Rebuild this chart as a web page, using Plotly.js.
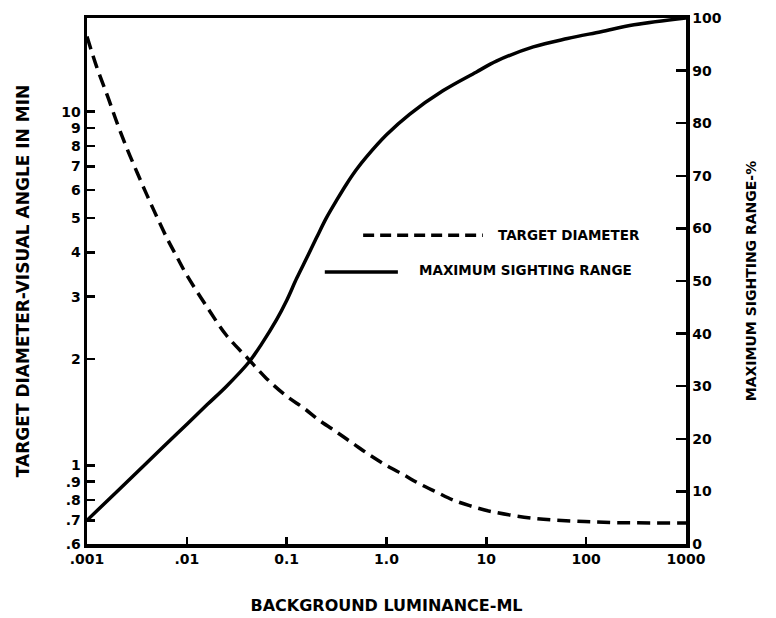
<!DOCTYPE html>
<html>
<head>
<meta charset="utf-8">
<script src="https://cdn.plot.ly/plotly-3.0.1.min.js"></script>
<style>
  html, body { margin: 0; padding: 0; background: #ffffff; }
  #chart { width: 776px; height: 618px; }
</style>
</head>
<body>
<div id="chart"></div>
<script>
// Background luminance (mL) and target diameter (visual angle, min) - dashed curve
const diamLum = [0.001, 0.00126, 0.0016, 0.002, 0.0025, 0.0032, 0.004, 0.005, 0.0063, 0.0079, 0.01, 0.016, 0.025, 0.04, 0.063, 0.1, 0.15, 0.21, 0.32, 0.46, 0.68, 1.0, 1.5, 2.1, 3.2, 4.6, 6.8, 11.5, 29, 72, 180, 1000];
const diamMin = [16.3, 13.3, 11.1, 9.3, 7.9, 6.7, 5.8, 5.05, 4.4, 3.9, 3.45, 2.8, 2.33, 2.02, 1.76, 1.57, 1.45, 1.345, 1.24, 1.155, 1.07, 1.0, 0.94, 0.89, 0.84, 0.80, 0.77, 0.74, 0.71, 0.697, 0.69, 0.688];

// Background luminance (mL) and maximum sighting range (%) - solid curve
const rangeLum = [0.001, 0.002, 0.004, 0.008, 0.016, 0.025, 0.042, 0.056, 0.079, 0.1, 0.126, 0.16, 0.2, 0.25, 0.32, 0.4, 0.5, 0.63, 1.0, 1.7, 3.7, 7.9, 12.6, 29.5, 65, 141, 302, 1000];
const rangePct = [4.5, 10, 15.5, 21, 26.5, 30, 34.6, 38.0, 42.6, 46.3, 50.5, 54.5, 58.3, 62.0, 65.5, 68.5, 71.2, 73.6, 77.8, 81.7, 86.2, 89.7, 91.8, 94.5, 96.1, 97.4, 98.7, 100];

// Tick labels
const xTickVals = [0.001, 0.01, 0.1, 1, 10, 100, 1000];
const xTickText = ['.001', '.01', '0.1', '1.0', '10', '100', '1000'];
const yTickVals = [0.6, 0.7, 0.8, 0.9, 1, 2, 3, 4, 5, 6, 7, 8, 9, 10];
const yTickText = ['.6', '.7', '.8', '.9', '1', '2', '3', '4', '5', '6', '7', '8', '9', '10'];
const y2TickVals = [0, 10, 20, 30, 40, 50, 60, 70, 80, 90, 100];

// Labels
const seriesNames = ['TARGET DIAMETER', 'MAXIMUM SIGHTING RANGE'];
const xTitle = 'BACKGROUND LUMINANCE-ML';
const yTitle = 'TARGET DIAMETER-VISUAL ANGLE IN MIN';
const y2Title = 'MAXIMUM SIGHTING RANGE-%';

const FONT = 'DejaVu Sans, Liberation Sans, sans-serif';

const traces = [
  {
    x: diamLum, y: diamMin, name: seriesNames[0], yaxis: 'y',
    type: 'scatter', mode: 'lines',
    line: { color: '#000', width: 3.5, dash: '13px,7px', shape: 'spline', smoothing: 1 },
    hoverinfo: 'skip'
  },
  {
    x: rangeLum, y: rangePct, name: seriesNames[1], yaxis: 'y2',
    type: 'scatter', mode: 'lines',
    line: { color: '#000', width: 3.5, shape: 'spline', smoothing: 1 },
    hoverinfo: 'skip'
  }
];

const layout = {
  width: 776, height: 618,
  margin: { l: 87, r: 90, t: 18, b: 74 },
  paper_bgcolor: '#fff', plot_bgcolor: '#fff',
  showlegend: false,
  font: { family: FONT, color: '#000', size: 14, weight: 'bold' },
  xaxis: {
    type: 'log', range: [-3, 3],
    tickvals: xTickVals, ticktext: xTickText,
    ticks: 'inside', ticklen: 7, tickwidth: 2.5, tickcolor: '#000',
    showline: true, linewidth: 3.5, linecolor: '#000', mirror: true,
    showgrid: false, zeroline: false,
    tickfont: { family: FONT, size: 14, weight: 'bold' },
    title: { text: xTitle, font: { family: FONT, size: 16, weight: 'bold' }, standoff: 34 }
  },
  yaxis: {
    type: 'log', range: [Math.log10(0.6), Math.log10(18.4)],
    tickvals: yTickVals, ticktext: yTickText,
    ticks: 'inside', ticklen: 8, tickwidth: 2.5, tickcolor: '#000',
    showline: true, linewidth: 3.5, linecolor: '#000',
    showgrid: false, zeroline: false,
    tickfont: { family: FONT, size: 14, weight: 'bold' },
    title: { text: yTitle, font: { family: FONT, size: 17, weight: 'bold' }, standoff: 28 }
  },
  yaxis2: {
    overlaying: 'y', side: 'right', range: [0, 100],
    tickvals: y2TickVals,
    ticks: 'inside', ticklen: 10, tickwidth: 2.5, tickcolor: '#000',
    showline: true, linewidth: 3.5, linecolor: '#000',
    showgrid: false, zeroline: false,
    tickfont: { family: FONT, size: 14, weight: 'bold' },
    title: { text: y2Title, font: { family: FONT, size: 14, weight: 'bold' }, standoff: 26 }
  },
  shapes: [
    { type: 'line', xref: 'paper', yref: 'paper', x0: 0.461, x1: 0.661, y0: 0.587, y1: 0.587,
      line: { color: '#000', width: 3.5, dash: '11px,6px' } },
    { type: 'line', xref: 'paper', yref: 'paper', x0: 0.397, x1: 0.519, y0: 0.517, y1: 0.517,
      line: { color: '#000', width: 3.5 } }
  ],
  annotations: [
    { xref: 'paper', yref: 'paper', x: 0.683, y: 0.587, xanchor: 'left', yanchor: 'middle',
      text: seriesNames[0], showarrow: false, font: { family: FONT, size: 13.5, weight: 'bold', color: '#000' } },
    { xref: 'paper', yref: 'paper', x: 0.551, y: 0.521, xanchor: 'left', yanchor: 'middle',
      text: seriesNames[1], showarrow: false, font: { family: FONT, size: 13.5, weight: 'bold', color: '#000' } }
  ]
};

Plotly.newPlot('chart', traces, layout, { displayModeBar: false, staticPlot: true });
</script>
</body>
</html>
